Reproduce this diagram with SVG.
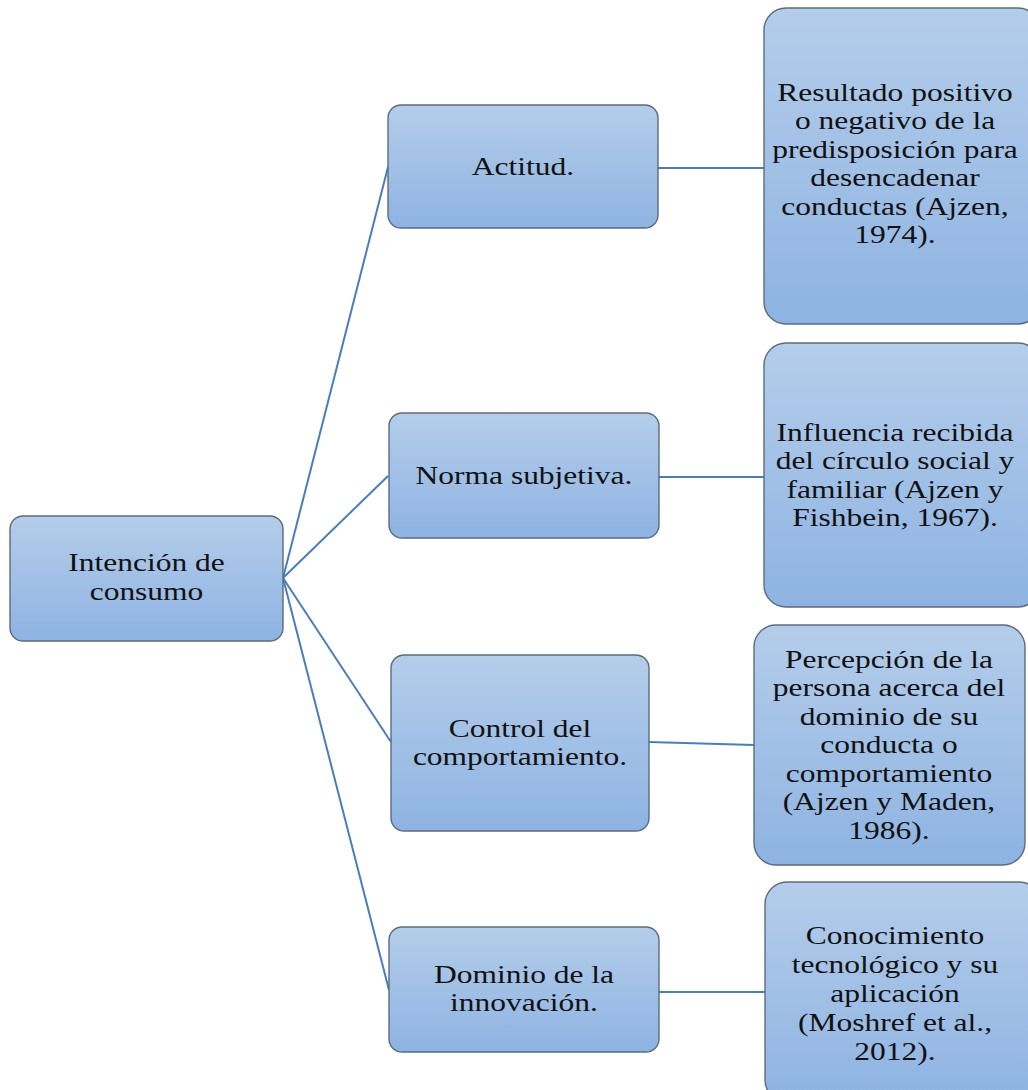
<svg xmlns="http://www.w3.org/2000/svg" width="1028" height="1090" viewBox="0 0 1028 1090">
  <defs>
    <linearGradient id="g" x1="0" y1="0" x2="0" y2="1">
      <stop offset="0" stop-color="#b4cdea"/>
      <stop offset="1" stop-color="#8eb3e2"/>
    </linearGradient>
    <style>
      .box { fill: url(#g); stroke: #5d6b7e; stroke-width: 1.4; }
      .lbl { font-family: "Liberation Serif", "Times New Roman", serif; font-size: 25px; fill: #111; text-anchor: middle; }
      .con { stroke: #4a7ebb; stroke-width: 2; fill: none; }
    </style>
  </defs>
  <rect width="1028" height="1090" fill="#ffffff"/>

  <g id="connectors">
    <line class="con" x1="283" y1="578" x2="388" y2="167"/>
    <line class="con" x1="283" y1="578" x2="388" y2="476"/>
    <line class="con" x1="283" y1="578" x2="391" y2="742"/>
    <line class="con" x1="283" y1="578" x2="389" y2="990"/>
    <line class="con" x1="658" y1="168" x2="764" y2="168"/>
    <line class="con" x1="659" y1="477" x2="764" y2="477"/>
    <line class="con" x1="649" y1="742" x2="754" y2="745"/>
    <line class="con" x1="659" y1="992" x2="765" y2="992"/>
  </g>

  <g id="root">
    <rect class="box" x="10" y="516" width="273" height="125" rx="13"/>
    <text class="lbl" transform="translate(146.5,0) scale(1.26,1)"><tspan x="0" y="571.5">Intención de</tspan><tspan x="0" y="600">consumo</tspan></text>
  </g>

  <g id="actitud">
    <rect class="box" x="388" y="105" width="270" height="123" rx="13"/>
    <text class="lbl" transform="translate(523,0) scale(1.26,1)"><tspan x="0" y="175">Actitud.</tspan></text>
  </g>

  <g id="norma">
    <rect class="box" x="389" y="413" width="270" height="125" rx="13"/>
    <text class="lbl" transform="translate(524,0) scale(1.26,1)"><tspan x="0" y="484">Norma subjetiva.</tspan></text>
  </g>

  <g id="control">
    <rect class="box" x="391" y="655" width="258" height="176" rx="13"/>
    <text class="lbl" transform="translate(520,0) scale(1.26,1)"><tspan x="0" y="737">Control del</tspan><tspan x="0" y="765.5">comportamiento.</tspan></text>
  </g>

  <g id="dominio">
    <rect class="box" x="389" y="927" width="270" height="125" rx="13"/>
    <text class="lbl" transform="translate(524,0) scale(1.26,1)"><tspan x="0" y="983">Dominio de la</tspan><tspan x="0" y="1011.5">innovación.</tspan></text>
  </g>

  <g id="def-actitud">
    <rect class="box" x="764" y="8" width="276" height="316" rx="22"/>
    <text class="lbl" transform="translate(895,0) scale(1.26,1)"><tspan x="0" y="101">Resultado positivo</tspan><tspan x="0" y="129.5">o negativo de la</tspan><tspan x="0" y="158">predisposición para</tspan><tspan x="0" y="186.5">desencadenar</tspan><tspan x="0" y="215">conductas (Ajzen,</tspan><tspan x="0" y="243.5">1974).</tspan></text>
  </g>

  <g id="def-norma">
    <rect class="box" x="764" y="343" width="276" height="264" rx="22"/>
    <text class="lbl" transform="translate(895,0) scale(1.26,1)"><tspan x="0" y="441">Influencia recibida</tspan><tspan x="0" y="469.5">del círculo social y</tspan><tspan x="0" y="498">familiar (Ajzen y</tspan><tspan x="0" y="526.5">Fishbein, 1967).</tspan></text>
  </g>

  <g id="def-control">
    <rect class="box" x="754" y="625" width="271" height="240" rx="22"/>
    <text class="lbl" transform="translate(889,0) scale(1.26,1)"><tspan x="0" y="668">Percepción de la</tspan><tspan x="0" y="696.5">persona acerca del</tspan><tspan x="0" y="725">dominio de su</tspan><tspan x="0" y="753.5">conducta o</tspan><tspan x="0" y="782">comportamiento</tspan><tspan x="0" y="810.5">(Ajzen y Maden,</tspan><tspan x="0" y="839">1986).</tspan></text>
  </g>

  <g id="def-dominio">
    <rect class="box" x="765" y="882" width="276" height="220" rx="22"/>
    <text class="lbl" transform="translate(895,0) scale(1.26,1)"><tspan x="0" y="944">Conocimiento</tspan><tspan x="0" y="973">tecnológico y su</tspan><tspan x="0" y="1002">aplicación</tspan><tspan x="0" y="1031">(Moshref et al.,</tspan><tspan x="0" y="1060">2012).</tspan></text>
  </g>
</svg>
